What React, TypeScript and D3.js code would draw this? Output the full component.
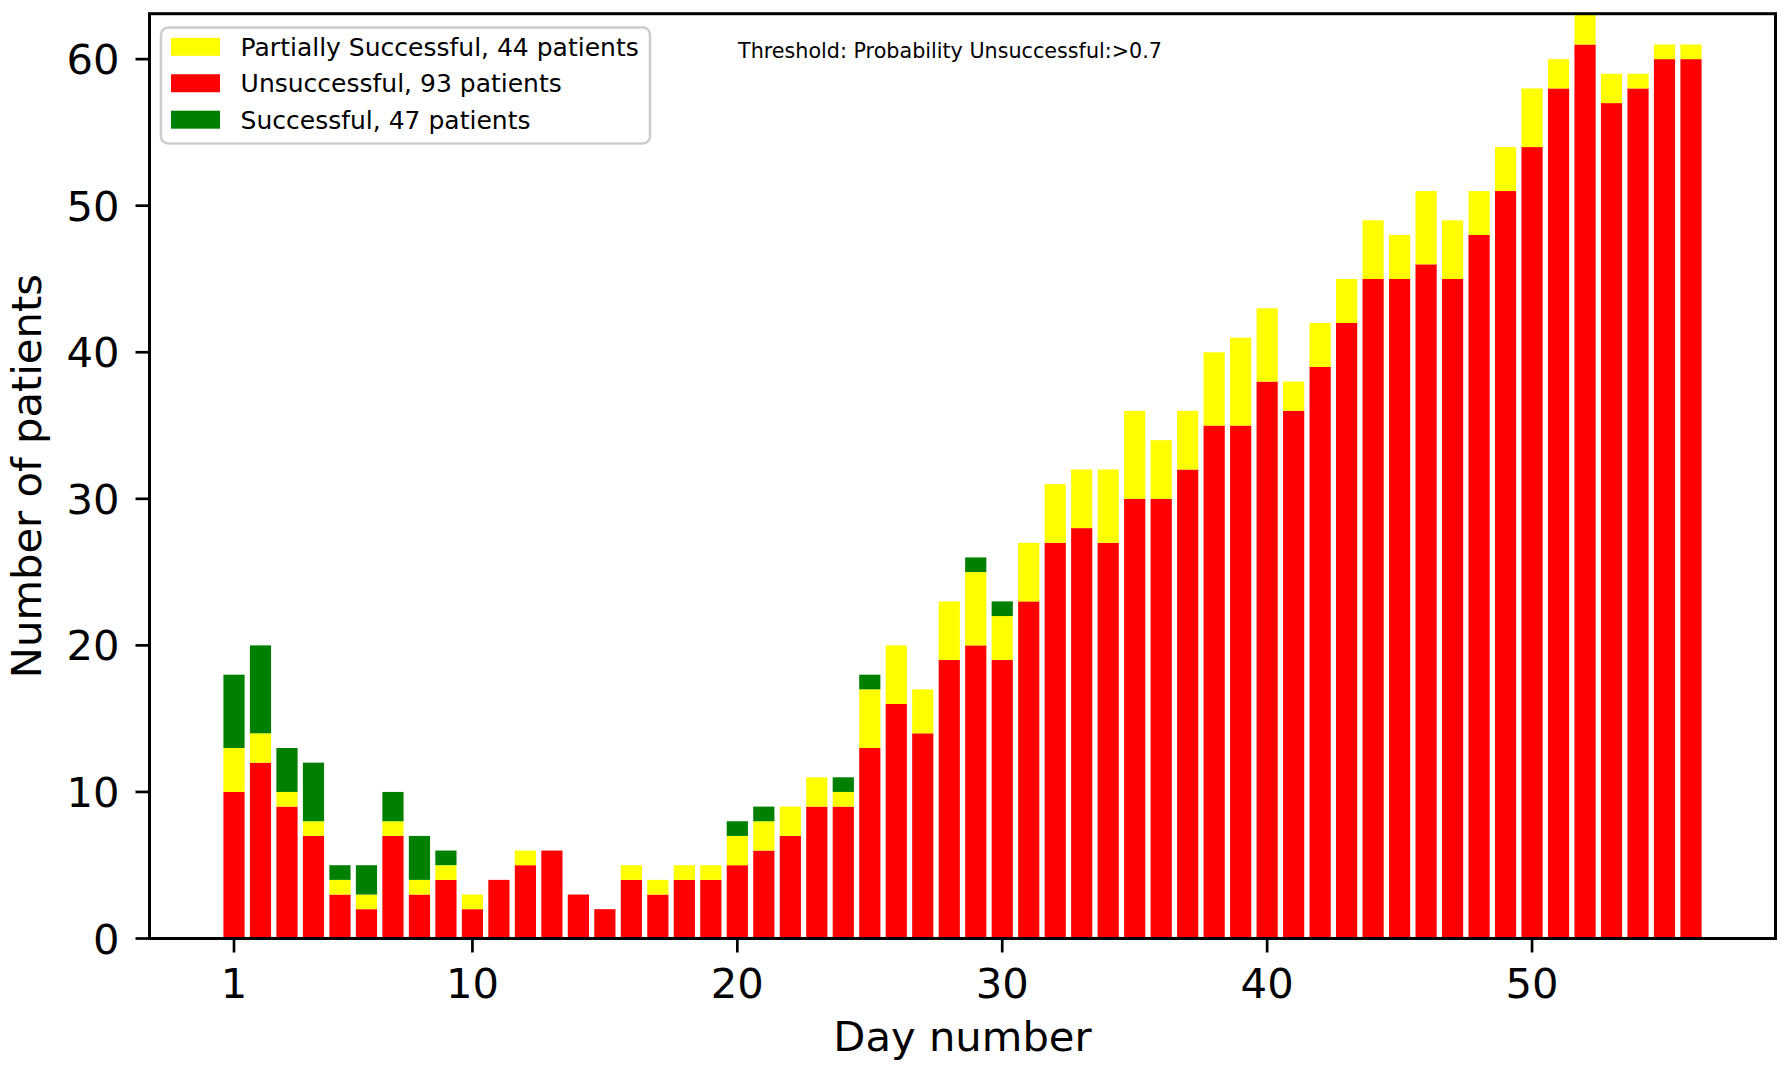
import React from "react";
import * as d3 from "d3";

const days: number[] = Array.from({ length: 56 }, (_, i) => i + 1);
const unsuccessful: number[] = [10, 12, 9, 7, 3, 2, 7, 3, 4, 2, 4, 5, 6, 3, 2, 4, 3, 4, 4, 5, 6, 7, 9, 9, 13, 16, 14, 19, 20, 19, 23, 27, 28, 27, 30, 30, 32, 35, 35, 38, 36, 39, 42, 45, 45, 46, 45, 48, 51, 54, 58, 61, 57, 58, 60, 60];
const partial: number[] = [3, 2, 1, 1, 1, 1, 1, 1, 1, 1, 0, 1, 0, 0, 0, 1, 1, 1, 1, 2, 2, 2, 2, 1, 4, 4, 3, 4, 5, 3, 4, 4, 4, 5, 6, 4, 4, 5, 6, 5, 2, 3, 3, 4, 3, 5, 4, 3, 3, 4, 2, 3, 2, 1, 1, 1];
const successful: number[] = [5, 6, 3, 4, 1, 2, 2, 3, 1, 0, 0, 0, 0, 0, 0, 0, 0, 0, 0, 1, 1, 0, 0, 1, 1, 0, 0, 0, 1, 1, 0, 0, 0, 0, 0, 0, 0, 0, 0, 0, 0, 0, 0, 0, 0, 0, 0, 0, 0, 0, 0, 0, 0, 0, 0, 0];
const xTicks: number[] = [1, 10, 20, 30, 40, 50];
const yTicks: number[] = [0, 10, 20, 30, 40, 50, 60];
const legendItems = [
  { label: "Partially Successful, 44 patients", color: "#ffff00" },
  { label: "Unsuccessful, 93 patients", color: "#ff0000" },
  { label: "Successful, 47 patients", color: "#008000" },
];
const annotation = "Threshold: Probability Unsuccessful:>0.7";

const W = 1788;
const H = 1076;
const left = 149.5;
const right = 1775.5;
const top = 13.7;
const bottom = 938.5;
const barWidth = 0.8;
const font = "'DejaVu Sans', sans-serif";

export default function App() {
  const x = d3.scaleLinear().domain([1 - barWidth / 2 - 55.8 * 0.05, 56 + barWidth / 2 + 55.8 * 0.05]).range([left, right]);
  const y = d3.scaleLinear().domain([0, 63.1]).range([bottom, top]);

  const rows = days.map((d, i) => ({ d, u: unsuccessful[i], p: partial[i], s: successful[i] }));
  const stack = d3.stack<any>().keys(["u", "p", "s"])(rows);
  const colors: Record<string, string> = { u: "#ff0000", p: "#ffff00", s: "#008000" };
  const bw = x(barWidth) - x(0);

  return (
    <svg width={W} height={H} style={{ display: "block", position: "absolute", left: 0, top: 0 }} xmlns="http://www.w3.org/2000/svg">
      <rect x={0} y={0} width={W} height={H} fill="#ffffff" />
      <defs>
        <clipPath id="plot">
          <rect x={left} y={top} width={right - left} height={bottom - top} />
        </clipPath>
      </defs>
      <g clipPath="url(#plot)">
        {stack.map((series) =>
          series.map((seg, i) => {
            const h = y(seg[0]) - y(seg[1]);
            if (h <= 0) return null;
            return (
              <rect
                key={series.key + "-" + i}
                x={x(rows[i].d) - bw / 2}
                y={y(seg[1])}
                width={bw}
                height={h}
                fill={colors[series.key]}
              />
            );
          })
        )}
      </g>
      {/* spines */}
      <rect x={left} y={top} width={right - left} height={bottom - top} fill="none" stroke="#000" strokeWidth={3} />
      {/* x ticks */}
      {xTicks.map((t) => (
        <g key={"xt" + t}>
          <line x1={x(t)} x2={x(t)} y1={bottom} y2={bottom + 14} stroke="#000" strokeWidth={2.7} />
          <text x={x(t)} y={998.3} textAnchor="middle" fontFamily={font} fontSize={41.7} fill="#000">
            {t}
          </text>
        </g>
      ))}
      {/* y ticks */}
      {yTicks.map((t) => (
        <g key={"yt" + t}>
          <line x1={left - 14} x2={left} y1={y(t)} y2={y(t)} stroke="#000" strokeWidth={2.7} />
          <text x={119.5} y={y(t)} dy="0.36em" textAnchor="end" fontFamily={font} fontSize={41.7} fill="#000">
            {t}
          </text>
        </g>
      ))}
      {/* axis labels */}
      <text x={(left + right) / 2} y={1051} textAnchor="middle" fontFamily={font} fontSize={41.7} fill="#000">
        Day number
      </text>
      <text
        transform={`translate(${41},${(top + bottom) / 2}) rotate(-90)`}
        textAnchor="middle"
        fontFamily={font}
        fontSize={41.7}
        fill="#000"
      >
        Number of patients
      </text>
      {/* annotation */}
      <text x={738} y={58} fontFamily={font} fontSize={20.7} fill="#000">
        {annotation}
      </text>
      {/* legend */}
      <rect x={161} y={27.5} width={489} height={116} rx={7} ry={7} fill="#ffffff" fillOpacity={0.8} stroke="#cccccc" strokeWidth={2.5} />
      {legendItems.map((it, i) => {
        const cy = 46.8 + i * 36.45;
        return (
          <g key={it.label}>
            <rect x={171} y={cy - 9} width={49} height={18} fill={it.color} />
            <text x={240.6} y={cy} dy="0.36em" fontFamily={font} fontSize={25} fill="#000">
              {it.label}
            </text>
          </g>
        );
      })}
    </svg>
  );
}
